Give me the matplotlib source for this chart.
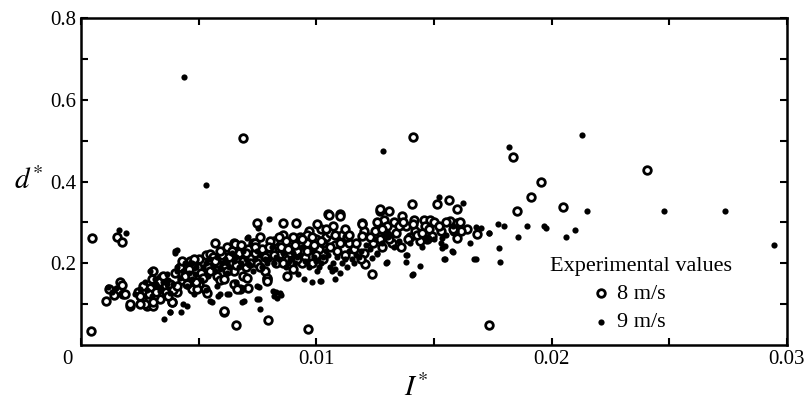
import matplotlib.pyplot as plt
import matplotlib.transforms as mtransforms
import numpy as np

# 8 m/s (open circles)
x8 = [0.00048, 0.00044, 0.00154, 0.00173, 0.00689, 0.01409, 0.02407, 0.01837, 0.01953, 0.01914,
      0.01852, 0.0205, 0.01732, 0.00966, 0.00794, 0.00658, 0.00608,
      0.00105, 0.0012, 0.0014, 0.00166, 0.00173, 0.0018, 0.00209, 0.00258, 0.0028, 0.00308,
      0.00336, 0.00241, 0.00294, 0.00323, 0.0031, 0.0027, 0.00386, 0.0036, 0.0034,
      0.00485, 0.00528, 0.0057, 0.00492, 0.00535, 0.0052, 0.00435, 0.00464, 0.00478, 0.00457,
      0.00485, 0.00471, 0.0041, 0.00377, 0.0043, 0.0045, 0.005, 0.0053, 0.0055, 0.0058,
      0.006, 0.0059, 0.0062, 0.0064, 0.0065,
      0.00606, 0.00674, 0.00651, 0.0079, 0.00875, 0.00747, 0.00857, 0.00915,
      0.0066, 0.0068, 0.007, 0.0072, 0.0073, 0.0075, 0.0077, 0.0078, 0.008, 0.0082,
      0.0083, 0.0085, 0.0086, 0.0088, 0.0089, 0.009, 0.0092, 0.0093, 0.0095, 0.0096,
      0.0097, 0.0098, 0.01, 0.0101, 0.0102, 0.0103, 0.0104, 0.0105, 0.0107, 0.0108,
      0.011, 0.0111, 0.0112, 0.0114, 0.0116, 0.0069, 0.0071, 0.0079,
      0.01194, 0.01201, 0.01194, 0.01201, 0.01209, 0.01237, 0.01272, 0.01307, 0.01286, 0.01364,
      0.01414, 0.01457, 0.01485, 0.01407, 0.01513, 0.01563, 0.01596, 0.01567, 0.01599, 0.01641,
      0.01684, 0.01599, 0.01613, 0.01584, 0.01492, 0.01471,
      0.0125, 0.0127, 0.013, 0.0132, 0.0134, 0.0136, 0.0138, 0.014, 0.0142, 0.0144,
      0.0146, 0.0128, 0.0133, 0.0124,
      0.00655, 0.00549, 0.005, 0.00471, 0.00308, 0.00301, 0.00265, 0.00187, 0.00209, 0.00251,
      0.00308, 0.00386, 0.00535, 0.00492, 0.00606, 0.00663, 0.00705, 0.01052, 0.01099, 0.01003,
      0.01194, 0.01272, 0.0074, 0.00804, 0.0079,
      0.0033, 0.0035, 0.0038, 0.004, 0.0042, 0.0044, 0.0046, 0.0048, 0.0051, 0.0054,
      0.0056, 0.0061, 0.0063, 0.0067, 0.0069, 0.0074, 0.0076, 0.0081, 0.0084, 0.0087,
      0.0091, 0.0094, 0.0099, 0.0106, 0.0109, 0.0113, 0.0117, 0.0119, 0.0123, 0.0129,
      0.0131, 0.0135, 0.0139, 0.0141, 0.0143, 0.0148, 0.015, 0.0153, 0.0155, 0.0161,
      0.0089, 0.0096, 0.0103, 0.0071, 0.0065, 0.0058, 0.0045, 0.0039, 0.0029, 0.0025,
      0.0032, 0.0037, 0.0041, 0.0043, 0.0047, 0.0049, 0.0052, 0.0055, 0.0057, 0.0059,
      0.0062, 0.0064, 0.0066, 0.0068, 0.007, 0.0072, 0.0074, 0.0076, 0.0078, 0.008,
      0.0082, 0.0084, 0.0086, 0.0088, 0.009, 0.0092, 0.0094, 0.0096, 0.0098, 0.01,
      0.0102, 0.0104, 0.0106, 0.0108, 0.011, 0.0112, 0.0114, 0.0126, 0.0128, 0.013,
      0.0137, 0.0145, 0.0152, 0.0158]
y8 = [0.262, 0.035, 0.265, 0.252, 0.506, 0.51, 0.429, 0.46, 0.399, 0.362,
      0.328, 0.337, 0.05, 0.04, 0.06, 0.05, 0.08,
      0.108, 0.138, 0.122, 0.154, 0.146, 0.124, 0.096, 0.112, 0.096, 0.096,
      0.112, 0.129, 0.14, 0.149, 0.12, 0.1, 0.106, 0.13, 0.165,
      0.206, 0.137, 0.25, 0.161, 0.181, 0.202, 0.193, 0.206, 0.193, 0.165,
      0.145, 0.137, 0.129, 0.145, 0.16, 0.19, 0.15, 0.22, 0.2, 0.17,
      0.22, 0.16, 0.24, 0.2, 0.15,
      0.161, 0.137, 0.249, 0.161, 0.169, 0.298, 0.298, 0.298,
      0.21, 0.23, 0.19, 0.215, 0.25, 0.2, 0.235, 0.18, 0.22, 0.255,
      0.2, 0.24, 0.27, 0.21, 0.25, 0.185, 0.23, 0.265, 0.215, 0.25,
      0.28, 0.2, 0.26, 0.235, 0.285, 0.21, 0.265, 0.32, 0.29, 0.245,
      0.32, 0.27, 0.22, 0.25, 0.235, 0.17, 0.14, 0.165,
      0.299, 0.279, 0.267, 0.226, 0.198, 0.173, 0.327, 0.327, 0.307, 0.315,
      0.307, 0.307, 0.307, 0.344, 0.344, 0.356, 0.332, 0.303, 0.299, 0.283,
      0.271, 0.263, 0.279, 0.279, 0.267, 0.259,
      0.28, 0.26, 0.29, 0.25, 0.275, 0.24, 0.29, 0.265, 0.28, 0.255,
      0.29, 0.24, 0.3, 0.25,
      0.246, 0.222, 0.21, 0.198, 0.181, 0.161, 0.145, 0.124, 0.1, 0.1,
      0.104, 0.104, 0.128, 0.137, 0.084, 0.137, 0.165, 0.318, 0.315, 0.295,
      0.295, 0.332, 0.25, 0.254, 0.157,
      0.155, 0.17, 0.15, 0.175, 0.19, 0.17, 0.185, 0.21, 0.175, 0.19,
      0.215, 0.195, 0.215, 0.225, 0.205, 0.225, 0.19, 0.235, 0.22, 0.255,
      0.245, 0.2, 0.245, 0.275, 0.23, 0.265, 0.25, 0.21, 0.265, 0.275,
      0.26, 0.29, 0.26, 0.295, 0.27, 0.285, 0.3, 0.28, 0.3, 0.3,
      0.225, 0.27, 0.25, 0.235, 0.18, 0.2, 0.15, 0.135, 0.125, 0.12,
      0.13, 0.12, 0.145, 0.205, 0.17, 0.155, 0.165, 0.18, 0.205, 0.23,
      0.18, 0.23, 0.195, 0.245, 0.225, 0.2, 0.24, 0.265, 0.215, 0.24,
      0.22, 0.265, 0.2, 0.235, 0.265, 0.21, 0.26, 0.23, 0.265, 0.22,
      0.255, 0.285, 0.24, 0.27, 0.25, 0.285, 0.27, 0.3, 0.285, 0.27,
      0.3, 0.275, 0.29, 0.285]

# 9 m/s (filled dots)
x9 = [0.00439, 0.00531, 0.01282, 0.01821, 0.02129, 0.02151, 0.0248, 0.02737, 0.02945, 0.021,
      0.02061, 0.01969, 0.01975, 0.01896, 0.01859, 0.01771, 0.01799, 0.01734, 0.01677, 0.01777,
      0.01782, 0.01545, 0.0158, 0.01442, 0.01409, 0.01383, 0.01387, 0.01299, 0.00797, 0.00751,
      0.0041, 0.00162, 0.00351, 0.00377, 0.00426, 0.0045, 0.00685, 0.0075, 0.00761, 0.0075,
      0.0082, 0.0083, 0.0085, 0.00981, 0.01018, 0.0108, 0.00922, 0.00549, 0.00584, 0.00627,
      0.01003, 0.01698, 0.01677, 0.01733, 0.01624, 0.0152, 0.01655, 0.0167, 0.01542, 0.01577,
      0.01549, 0.01535, 0.01535, 0.01407, 0.01383, 0.01298, 0.01237,
      0.00116, 0.0023, 0.00251, 0.00272, 0.00294, 0.00315, 0.00322, 0.00301, 0.00336, 0.00365,
      0.00379, 0.004, 0.00407, 0.00435, 0.0045, 0.00471, 0.00485, 0.0013, 0.0015, 0.0019,
      0.0052, 0.0055, 0.0057, 0.006, 0.0062, 0.0064, 0.0067, 0.007, 0.0071, 0.0073,
      0.0076, 0.0079, 0.0081, 0.0084, 0.0087, 0.009, 0.0091, 0.0094, 0.0097, 0.0099,
      0.0102, 0.0104, 0.0106, 0.0108, 0.0109, 0.0111, 0.0113, 0.0115, 0.0118, 0.0121,
      0.0126, 0.013, 0.0135, 0.0145, 0.015, 0.0155, 0.0158, 0.0066, 0.0069, 0.0058,
      0.0053, 0.0048, 0.00946,
      0.004, 0.00705, 0.00365, 0.00591, 0.0062, 0.00556, 0.00691, 0.00435, 0.00379, 0.00755,
      0.00818, 0.00847, 0.00833, 0.01017, 0.00755, 0.01067, 0.01258,
      0.0028, 0.0032, 0.0034, 0.0037, 0.0039, 0.0042, 0.0044, 0.0046, 0.0049, 0.0051,
      0.0054, 0.0056, 0.0059, 0.0061, 0.0063, 0.0065, 0.0068, 0.0072, 0.0074, 0.0077,
      0.008, 0.0082, 0.0086, 0.0088, 0.0092, 0.0095, 0.0098, 0.0101, 0.0103, 0.0107,
      0.011, 0.0112, 0.0116, 0.0119, 0.0123, 0.0128, 0.0133, 0.014, 0.0147, 0.0153,
      0.0035, 0.0041, 0.0047, 0.0053, 0.0058, 0.0062, 0.0066, 0.0069, 0.0071, 0.0075,
      0.0078, 0.0083, 0.0089, 0.0093, 0.0096, 0.01, 0.0105, 0.0114, 0.0117, 0.0125]
y9 = [0.655, 0.391, 0.474, 0.484, 0.514, 0.327, 0.327, 0.327, 0.244, 0.282,
      0.265, 0.292, 0.286, 0.292, 0.264, 0.297, 0.29, 0.274, 0.211, 0.238,
      0.202, 0.211, 0.228, 0.194, 0.173, 0.202, 0.219, 0.202, 0.308, 0.286,
      0.232, 0.282, 0.063, 0.081, 0.081, 0.096, 0.106, 0.113, 0.089, 0.145,
      0.12, 0.13, 0.122, 0.155, 0.157, 0.161, 0.173, 0.108, 0.12, 0.124,
      0.181, 0.287, 0.289, 0.275, 0.348, 0.363, 0.25, 0.21, 0.21, 0.23,
      0.242, 0.238, 0.263, 0.171, 0.22, 0.2, 0.214,
      0.143, 0.124, 0.137, 0.153, 0.181, 0.161, 0.145, 0.12, 0.132, 0.149,
      0.128, 0.23, 0.19, 0.181, 0.145, 0.161, 0.173, 0.13, 0.14, 0.275,
      0.19, 0.21, 0.18, 0.2, 0.175, 0.225, 0.19, 0.21, 0.265, 0.18,
      0.22, 0.2, 0.24, 0.21, 0.19, 0.225, 0.2, 0.24, 0.19, 0.215,
      0.2, 0.23, 0.19, 0.185, 0.215, 0.2, 0.19, 0.21, 0.215, 0.245,
      0.225, 0.27, 0.255, 0.24, 0.26, 0.27, 0.29, 0.155, 0.14, 0.145,
      0.135, 0.125, 0.161,
      0.226, 0.263, 0.173, 0.124, 0.124, 0.104, 0.108, 0.1, 0.08, 0.141,
      0.132, 0.128, 0.116, 0.157, 0.112, 0.181, 0.222,
      0.135, 0.15, 0.14, 0.16, 0.15, 0.165, 0.2, 0.175, 0.19, 0.16,
      0.17, 0.19, 0.185, 0.21, 0.19, 0.205, 0.2, 0.195, 0.21, 0.19,
      0.21, 0.2, 0.225, 0.2, 0.215, 0.205, 0.23, 0.19, 0.215, 0.2,
      0.175, 0.21, 0.2, 0.23, 0.235, 0.25, 0.24, 0.25, 0.26, 0.25,
      0.155, 0.18, 0.2, 0.2, 0.215, 0.2, 0.215, 0.23, 0.2, 0.23,
      0.21, 0.215, 0.21, 0.22, 0.2, 0.205, 0.22, 0.23, 0.22, 0.26]

x_ticks = [0, 0.01, 0.02, 0.03]
x_tick_labels = ['0', '0.01', '0.02', '0.03']
y_ticks = [0.2, 0.4, 0.6, 0.8]
y_tick_labels = ['0.2', '0.4', '0.6', '0.8']
series_labels = ['8 m/s', '9 m/s']

plt.rcParams['font.family'] = ['Liberation Serif', 'DejaVu Serif']
plt.rcParams['mathtext.fontset'] = 'stix'

fig = plt.figure(figsize=(8.07, 4.03), dpi=100)
ax = fig.add_axes([0.1004, 0.144, 0.8746, 0.811])

ax.scatter(x8, y8, s=30, facecolors='white', edgecolors='black', linewidths=2.0, zorder=3)
ax.scatter(x9, y9, s=20, color='black', linewidths=0, zorder=4)

ax.set_xlim(0, 0.03)
ax.set_ylim(0, 0.8)
ax.set_xticks(x_ticks)
ax.set_xticklabels(x_tick_labels)
ax.set_xticks(np.arange(0, 0.031, 0.005), minor=True)
ax.set_yticks(y_ticks)
ax.set_yticklabels(y_tick_labels)
ax.set_yticks(np.arange(0.1, 0.81, 0.1), minor=True)
ax.tick_params(which='both', direction='in', top=True, right=True, length=5, width=1.5, labelsize=15)
for sp in ax.spines.values():
    sp.set_linewidth(1.8)

# the "0" sits left of the axis corner in the original
zero = ax.get_xticklabels()[0]
zero.set_transform(zero.get_transform() + mtransforms.ScaledTranslation(-14 / 100, 0, fig.dpi_scale_trans))

ax.set_xlabel('$I^{*}$', fontsize=21)
ax.xaxis.set_label_coords(0.475, -0.09)
ax.set_ylabel('$d^{*}$', fontsize=21, rotation=0, va='center')
ax.yaxis.set_label_coords(-0.075, 0.5)

h8 = ax.scatter([], [], s=30, facecolors='white', edgecolors='black', linewidths=2.0)
h9 = ax.scatter([], [], s=20, color='black', linewidths=0)
leg = ax.legend([h8, h9], [lab + '     ' for lab in series_labels], title='Experimental values',
                loc='upper center', bbox_to_anchor=(0.793, 0.304),
                frameon=False, fontsize=16, title_fontsize=16, handletextpad=0.15,
                labelspacing=0.35, borderpad=0, handlelength=1.2)

fig.savefig('out.png', dpi=100)
